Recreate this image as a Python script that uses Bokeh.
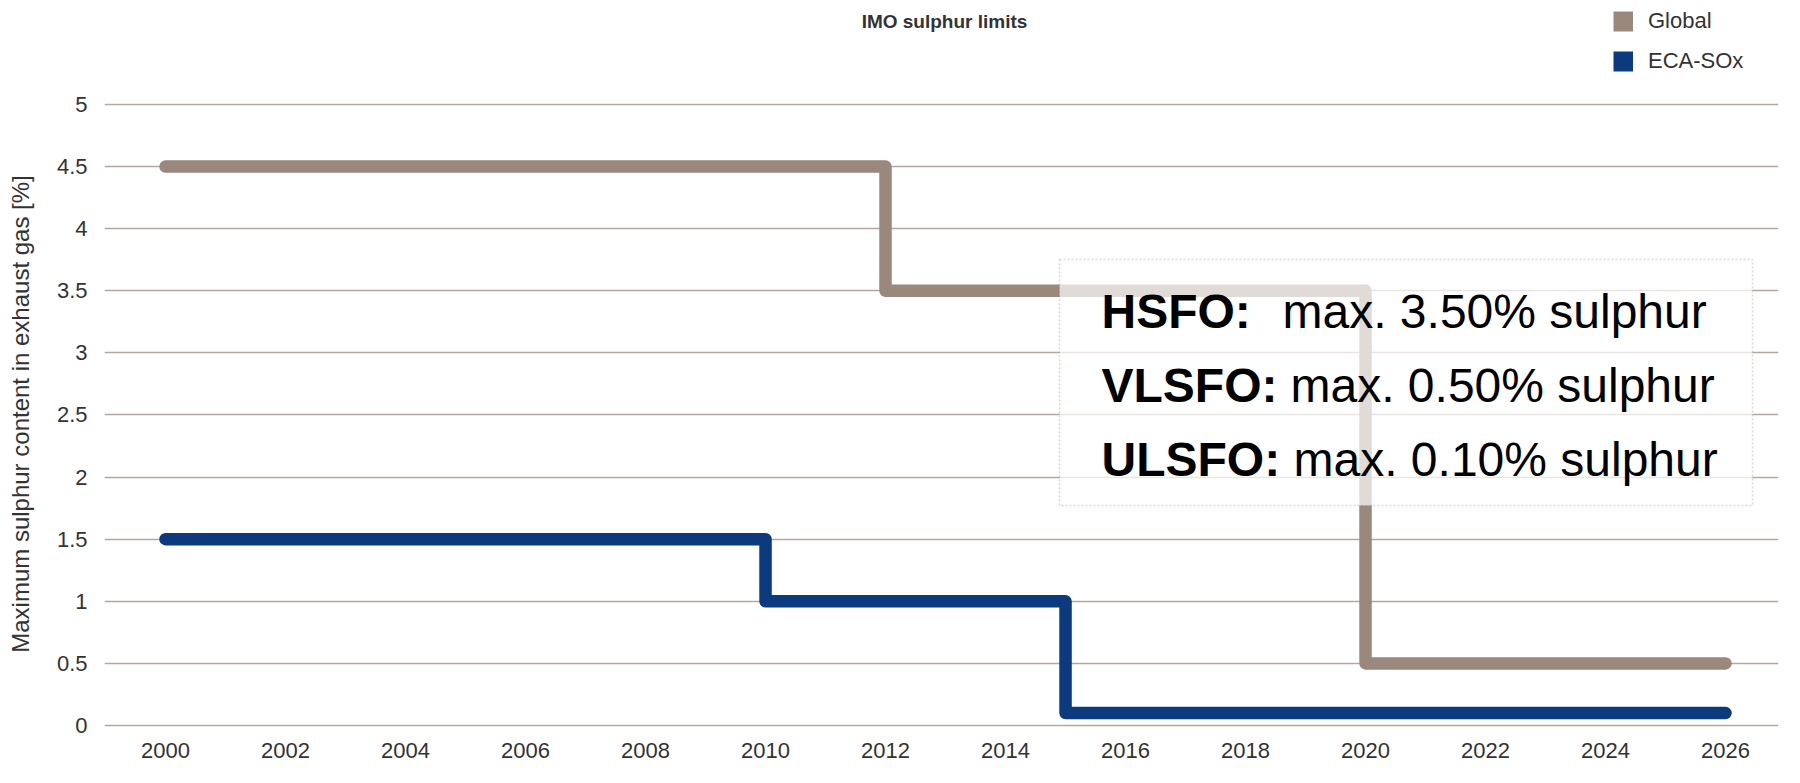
from bokeh.plotting import figure
from bokeh.layouts import column
from bokeh.models import Range1d, FixedTicker, Legend, LegendItem, BoxAnnotation, Label
from bokeh.embed import file_html
from bokeh.resources import INLINE

# ---------------- data ----------------
title_text = "IMO sulphur limits"
y_axis_title = "Maximum sulphur content in exhaust gas [%]"

series_names = ["Global", "ECA-SOx"]
global_years = [2000, 2012, 2020, 2026]
global_limits = [4.5, 3.5, 0.5, 0.5]
eca_years = [2000, 2010, 2015, 2026]
eca_limits = [1.5, 1.0, 0.1, 0.1]

x_ticks = [2000, 2002, 2004, 2006, 2008, 2010, 2012, 2014, 2016, 2018, 2020, 2022, 2024, 2026]
y_ticks = [0, 0.5, 1, 1.5, 2, 2.5, 3, 3.5, 4, 4.5, 5]
y_tick_labels = ["0", "0.5", "1", "1.5", "2", "2.5", "3", "3.5", "4", "4.5", "5"]

fuel_names = ["HSFO:", "VLSFO:", "ULSFO:"]
fuel_limits = ["max. 3.50% sulphur", "max. 0.50% sulphur", "max. 0.10% sulphur"]

# ---------------- styles ----------------
GLOBAL_COLOR = "#9b887d"
ECA_COLOR = "#0c3a7e"
GRID_COLOR = "#b5a79f"
TEXT_COLOR = "#333333"
FONT = "Liberation Sans"
W = 1784
TOP_H = 80
MAIN_H = 687
LEFT = 104
RIGHT = 6

# ---------------- header strip: title + legend ----------------
top = figure(width=W, height=TOP_H, x_range=Range1d(LEFT, W - RIGHT), y_range=Range1d(0, TOP_H),
             output_backend="svg", toolbar_location=None,
             x_axis_type=None, y_axis_type=None,
             min_border_left=LEFT, min_border_right=RIGHT, min_border_top=0, min_border_bottom=0)
top.outline_line_color = None
top.xgrid.visible = False
top.ygrid.visible = False

# legend swatches: single-point line proxies (draw nothing themselves, square swatch in legend)
r_g = top.line(x=global_years[:1], y=global_limits[:1], line_color=GLOBAL_COLOR,
               line_width=20, line_cap="butt")
r_e = top.line(x=eca_years[:1], y=eca_limits[:1], line_color=ECA_COLOR,
               line_width=20, line_cap="butt")
legend = Legend(items=[LegendItem(label=series_names[0], renderers=[r_g]),
                       LegendItem(label=series_names[1], renderers=[r_e])],
                location=(1509, 6.4), orientation="vertical",
                glyph_width=20, glyph_height=26, label_height=26, spacing=14,
                padding=0, margin=0, border_line_color=None, background_fill_alpha=0,
                label_text_font=FONT, label_text_font_size="22px",
                label_text_color=TEXT_COLOR, label_standoff=15)
top.add_layout(legend, "center")

top.add_layout(Label(x=944, y=59, text=title_text, text_font=FONT,
                     text_font_style="bold", text_font_size="19px", text_color=TEXT_COLOR,
                     text_align="center", text_baseline="alphabetic"))

# ---------------- main chart ----------------
p = figure(width=W, height=MAIN_H,
           x_range=Range1d(1998.983, 2026.883), y_range=Range1d(-0.016, 5.032),
           output_backend="svg", toolbar_location=None,
           min_border_left=LEFT, min_border_right=RIGHT,
           min_border_top=20, min_border_bottom=40)
p.outline_line_color = None

p.xaxis.ticker = FixedTicker(ticks=x_ticks)
p.yaxis.ticker = FixedTicker(ticks=y_ticks)
p.yaxis.major_label_overrides = dict(zip(y_ticks, y_tick_labels))
for ax in (p.xaxis, p.yaxis):
    ax.axis_line_color = None
    ax.major_tick_line_color = None
    ax.minor_tick_line_color = None
    ax.major_tick_out = 0
    ax.major_tick_in = 0
    ax.minor_tick_out = 0
    ax.minor_tick_in = 0
    ax.major_label_text_font = FONT
    ax.major_label_text_font_size = "22px"
    ax.major_label_text_color = TEXT_COLOR
p.xaxis.major_label_standoff = 15
p.yaxis.major_label_standoff = 17
p.yaxis.axis_label = y_axis_title
p.yaxis.axis_label_text_font = FONT
p.yaxis.axis_label_text_font_size = "24px"
p.yaxis.axis_label_text_font_style = "normal"
p.yaxis.axis_label_text_color = TEXT_COLOR
p.yaxis.axis_label_standoff = 20

p.xgrid.grid_line_color = None
p.ygrid.ticker = FixedTicker(ticks=y_ticks)
p.ygrid.grid_line_color = GRID_COLOR
p.ygrid.grid_line_width = 1.6

p.step(x=global_years, y=global_limits, mode="after", line_color=GLOBAL_COLOR,
       line_width=12.5, line_cap="round", line_join="round")
p.step(x=eca_years, y=eca_limits, mode="after", line_color=ECA_COLOR,
       line_width=12.5, line_cap="round", line_join="round")

# ---------------- annotation box ----------------
box = BoxAnnotation(left=2014.9, right=2026.45, top=3.752, bottom=1.772,
                    fill_color="white", fill_alpha=0.7,
                    line_color="#8f7f76", line_width=1.5, line_dash="2 2")
p.add_layout(box)

name_x = 2015.6
baselines = [3.333, 2.739, 2.145]
value_offsets = [181, 189, 192]
for name, lim, yb, off in zip(fuel_names, fuel_limits, baselines, value_offsets):
    p.add_layout(Label(x=name_x, y=yb, text=name, text_font=FONT, text_font_style="bold",
                       text_font_size="48px", text_color="black", text_baseline="alphabetic"))
    p.add_layout(Label(x=name_x, y=yb, x_offset=off, text=lim, text_font=FONT,
                       text_font_size="48px", text_color="black", text_baseline="alphabetic"))

layout = column(top, p, spacing=0)
open("out.html", "w").write(file_html(layout, INLINE))
